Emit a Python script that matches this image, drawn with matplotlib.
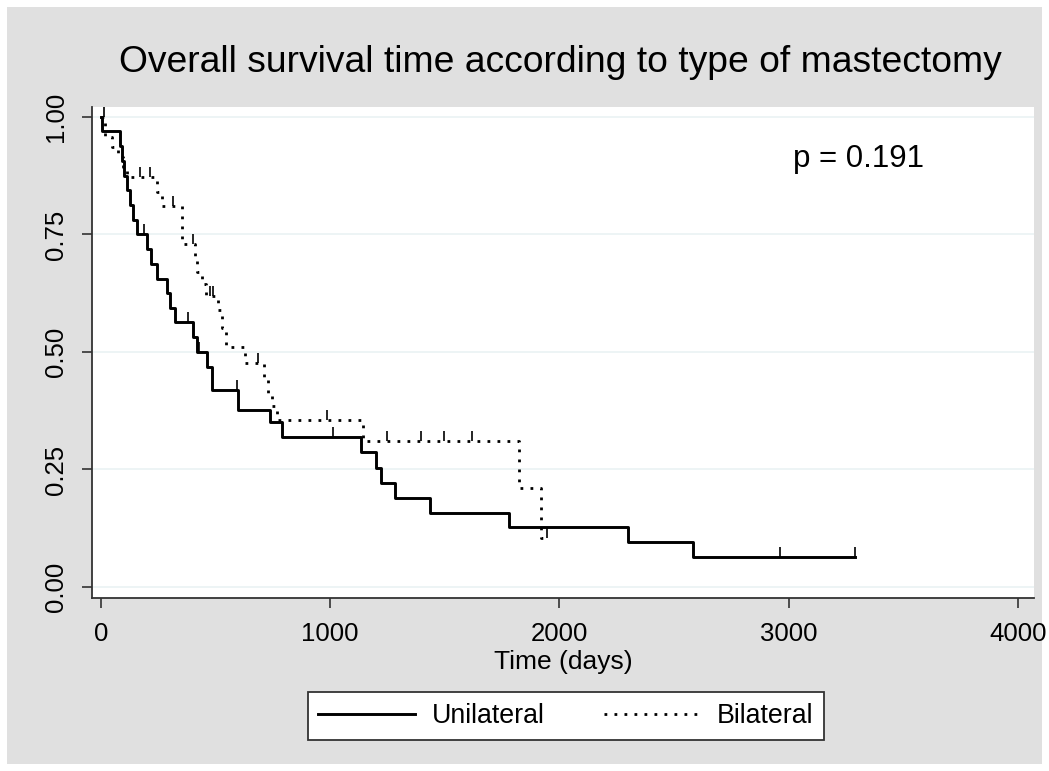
import numpy as np
import matplotlib
matplotlib.use("Agg")
import matplotlib.pyplot as plt
from matplotlib.patches import Rectangle
from matplotlib.path import Path

plt.rcParams['font.family'] = ['Liberation Sans', 'DejaVu Sans']

# Kaplan-Meier steps (time in days, survival)
uni_t = [0, 4, 83, 92, 100, 113, 127, 140, 157, 200, 218, 244, 288, 301, 323, 401, 419,
         462, 484, 598, 737, 790, 1134, 1200, 1222, 1283, 1435, 1780, 2300, 2583]
uni_s = [1.0, 0.969, 0.938, 0.906, 0.875, 0.844, 0.813, 0.781, 0.75, 0.719, 0.688, 0.656,
         0.625, 0.594, 0.563, 0.531, 0.50, 0.469, 0.42, 0.377, 0.35, 0.32, 0.288, 0.254,
         0.222, 0.19, 0.158, 0.127, 0.095, 0.064]
uni_cens = [190, 380, 430, 595, 1012, 2962, 3290]

bil_t = [0, 18, 50, 75, 95, 115, 245, 265, 355, 410, 420, 440, 460, 510, 530, 545, 630,
         710, 730, 745, 770, 1145, 1825, 1920]
bil_s = [1.0, 0.957, 0.936, 0.915, 0.894, 0.872, 0.84, 0.81, 0.73, 0.70, 0.67, 0.645,
         0.62, 0.59, 0.55, 0.51, 0.477, 0.44, 0.41, 0.385, 0.355, 0.31, 0.21, 0.105]
bil_cens = [12, 170, 215, 315, 400, 475, 490, 685, 985, 1250, 1395, 1495, 1620, 1945]

x_ticks = [0, 1000, 2000, 3000, 4000]
y_ticks = [0.0, 0.25, 0.5, 0.75, 1.0]
p_text = "p = 0.191"

W, H = 1049, 771
fig = plt.figure(figsize=(W / 100, H / 100), dpi=100, facecolor='white')
fig.patches.append(Rectangle((7 / W, 7 / H), 1 - 14 / W, 1 - 14 / H, transform=fig.transFigure,
                             facecolor='#e0e0e0', edgecolor='none', zorder=-10))

ax = fig.add_axes([92 / W, 1 - 598 / H, (1034 - 92) / W, (598 - 107) / H])
ax.set_facecolor('white')

tick_up = Path([(0, 0), (0, 1)])


def draw_km(t, s, cens, **kw):
    t = np.asarray(t, float)
    s = np.asarray(s, float)
    cens = np.asarray(cens, float)
    end = max(t[-1], cens.max())
    xs = np.append(t, end)
    ys = np.append(s, s[-1])
    ax.step(xs, ys, where='post', color='black', **kw)
    idx = np.searchsorted(t, cens, side='right') - 1
    ax.plot(cens, s[idx], linestyle='none', marker=tick_up, markersize=14,
            markeredgewidth=1.2, color='black')


draw_km(uni_t, uni_s, uni_cens, linewidth=2.1, label='Unilateral')
draw_km(bil_t, bil_s, bil_cens, linewidth=2.0, linestyle=(0, (1, 2.6)), label='Bilateral')

ax.set_xlim(-39, 4071)
ax.set_ylim(-0.0234, 1.021)
ax.set_xticks(x_ticks)
ax.set_yticks(y_ticks)
ax.set_yticklabels([f"{v:.2f}" for v in y_ticks], rotation=90, va='center')
ax.tick_params(axis='both', direction='out', length=7, width=1.2, color='#333333',
               labelsize=18.5, pad=10.5)
for v in y_ticks:
    ax.axhline(v, color='#eaf2f3', linewidth=1.2, zorder=0)

for side in ['top', 'right']:
    ax.spines[side].set_visible(False)
for side in ['left', 'bottom']:
    ax.spines[side].set_color('#333333')
    ax.spines[side].set_linewidth(1.3)

ax.set_xlabel('Time (days)', fontsize=19, labelpad=3)
ax.text(0.744, 0.894, p_text, transform=ax.transAxes, fontsize=22.5, ha='left', va='center')

fig.text(560 / W, 1 - 62 / H, 'Overall survival time according to type of mastectomy',
         fontsize=26.8, ha='center', va='center')

handles, labels = ax.get_legend_handles_labels()
leg = fig.legend(handles, labels, loc='center', bbox_to_anchor=(566 / W, 1 - 716 / H),
                 ncol=2, fontsize=19.3, frameon=True, fancybox=False, edgecolor='#333333',
                 facecolor='white', framealpha=1.0,
                 handlelength=3.6, handletextpad=0.63, columnspacing=2.2,
                 borderpad=0.4)
leg.get_frame().set_linewidth(1.3)

fig.savefig('out.png', dpi=100, facecolor=fig.get_facecolor())
